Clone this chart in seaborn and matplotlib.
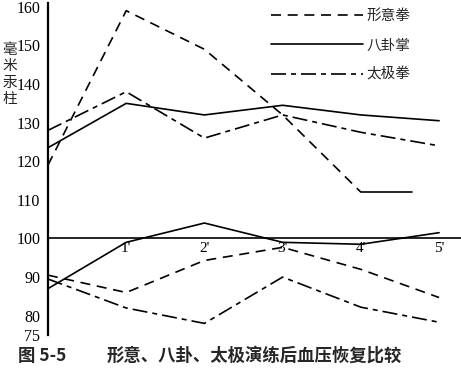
import pandas as pd
import matplotlib
matplotlib.use('Agg')
import matplotlib.pyplot as plt
import seaborn as sns
from matplotlib.lines import Line2D

# Данные (мм рт. ст.)
minutes = [0, 1, 2, 3, 4, 5]
xingyi_sys = [119, 159, 149, 132, 112]
xingyi_sys_x = [0, 1, 2, 3, 4]
xingyi_tail_x = [4, 4.65]
xingyi_tail = [112, 112]
bagua_sys = [123.5, 135, 132, 134.5, 132, 130.5]
taiji_sys = [128, 138, 126, 132, 127.5, 124]

xingyi_dia = [90.5, 86, 94.3, 97.7, 92, 84.7]
bagua_dia = [87, 99, 104, 99, 98.5, 101.5]
taiji_dia = [89.5, 82, 78, 90, 82.2, 78.3]

tick_labels = ['', "1'", "2'", "3'", "4'", "5'"]
y_ticks = [75, 80, 90, 100, 110, 120, 130, 140, 150, 160]
names = ['形意拳', '八卦掌', '太极拳']

sns.set_style('white')
plt.rcParams['font.family'] = ['Liberation Serif', 'Noto Sans CJK SC']

dash_x = (0, (6, 4))
solid = '-'
dashdot = (0, (9, 3, 3, 3))

fig = plt.figure(figsize=(4.61, 3.72), dpi=100)
ax = fig.add_axes([0.104, 0.0995, 0.896, 0.8925])

lw = 1.2
sns.lineplot(x=xingyi_sys_x, y=xingyi_sys, ax=ax, color='k', lw=lw, linestyle=dash_x)
sns.lineplot(x=xingyi_tail_x, y=xingyi_tail, ax=ax, color='k', lw=lw, linestyle=solid)
sns.lineplot(x=minutes, y=bagua_sys, ax=ax, color='k', lw=lw, linestyle=solid)
sns.lineplot(x=minutes, y=taiji_sys, ax=ax, color='k', lw=lw, linestyle=dashdot)
sns.lineplot(x=minutes, y=xingyi_dia, ax=ax, color='k', lw=lw, linestyle=dash_x)
sns.lineplot(x=minutes, y=bagua_dia, ax=ax, color='k', lw=lw, linestyle=solid)
sns.lineplot(x=minutes, y=taiji_dia, ax=ax, color='k', lw=lw, linestyle=dashdot)

ax.set_xlim(0, 5.28)
ax.set_ylim(75, 161)

# ось X проходит по уровню 100
for s in ['top', 'right']:
    ax.spines[s].set_visible(False)
ax.spines['bottom'].set_position(('data', 100))
ax.spines['bottom'].set_linewidth(1.2)
ax.spines['left'].set_linewidth(1.6)
for s in ['bottom', 'left']:
    ax.spines[s].set_color('k')

ax.set_xticks(minutes)
ax.set_xticklabels(tick_labels, fontsize=11)
ax.set_yticks(y_ticks)
ax.set_yticklabels([str(v) for v in y_ticks], fontsize=11.5)
ax.tick_params(axis='x', direction='inout', length=5, width=1, pad=0, colors='k')
ax.tick_params(axis='y', direction='out', length=4, width=1, pad=1.5, colors='k')
ax.set_xlabel('')
ax.set_ylabel('')

handles = [Line2D([], [], color='k', lw=lw, linestyle=st) for st in [dash_x, solid, dashdot]]
ax.legend(handles, names, loc='upper right', bbox_to_anchor=(0.905, 0.995),
          bbox_transform=fig.transFigure, frameon=False, handlelength=6.3,
          handletextpad=0.2, labelspacing=1.05, borderpad=0,
          prop={'family': 'Noto Sans CJK SC', 'size': 10.5})

fig.text(0.021, 0.8, '毫\n米\n汞\n柱', family='Noto Sans CJK SC', fontsize=10.5,
         ha='center', va='center', linespacing=1.2)
fig.text(0.039, 0.043, '图 5-5', family='Noto Sans CJK SC', fontsize=12.5,
         fontweight='bold', ha='left', va='center')
fig.text(0.232, 0.043, '形意、八卦、太极演练后血压恢复比较',
         family='Noto Sans CJK SC', fontsize=12.5, fontweight='bold', ha='left', va='center')

fig.savefig('out.png', dpi=100)
